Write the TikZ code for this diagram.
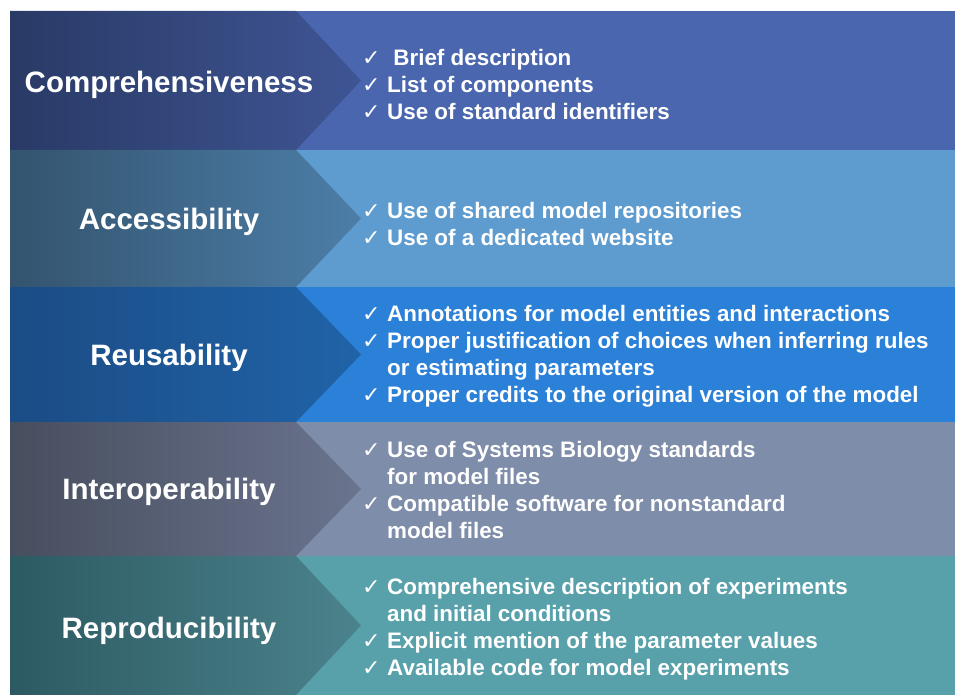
\documentclass[tikz,border=0pt]{standalone}
\usepackage{fontspec}
\setmainfont{Liberation Sans}
\newfontfamily\checkfont{DejaVu Sans}
\usepackage{tikz}
\definecolor{compleft}{HTML}{293A66}
\definecolor{compright}{HTML}{3F5594}
\definecolor{complight}{HTML}{4A66AE}
\definecolor{accleft}{HTML}{34546F}
\definecolor{accright}{HTML}{4C7EA8}
\definecolor{acclight}{HTML}{5E9CD0}
\definecolor{reuseleft}{HTML}{1B4C85}
\definecolor{reuseright}{HTML}{2063A8}
\definecolor{reuselight}{HTML}{2B80D8}
\definecolor{interleft}{HTML}{474E5E}
\definecolor{interright}{HTML}{6A748E}
\definecolor{interlight}{HTML}{7E8DA9}
\definecolor{reproleft}{HTML}{2D5A62}
\definecolor{reproright}{HTML}{4B838C}
\definecolor{reprolight}{HTML}{58A1AB}
\newcommand{\chk}{\makebox[25pt][l]{\checkfont\fontsize{22}{22}\selectfont ✓}}
\newcommand{\ind}{\hspace*{25pt}}
\tikzset{
  rowtitle/.style={text=white, font=\bfseries\fontsize{29.5}{29.5}\selectfont},
  rowitems/.style={anchor=west, text=white, align=left, inner sep=0pt,
    font=\bfseries\fontsize{22.4}{27}\selectfont},
}
\begin{document}
\begin{tikzpicture}[x=1pt, y=-1pt]
    \useasboundingbox (0,0) rectangle (955,695);
    % Comprehensiveness band
    \fill[complight] (10,11) rectangle (955,150);
    \shade[left color=compleft, right color=compright]
      (10,11) -- (296,11) -- (361,80.5) -- (296,150) -- (10,150) -- cycle;
    % Accessibility band
    \fill[acclight] (10,150) rectangle (955,287);
    \shade[left color=accleft, right color=accright]
      (10,150) -- (296,150) -- (361,218.5) -- (296,287) -- (10,287) -- cycle;
    % Reusability band
    \fill[reuselight] (10,287) rectangle (955,422);
    \shade[left color=reuseleft, right color=reuseright]
      (10,287) -- (296,287) -- (361,354.5) -- (296,422) -- (10,422) -- cycle;
    % Interoperability band
    \fill[interlight] (10,422) rectangle (955,556);
    \shade[left color=interleft, right color=interright]
      (10,422) -- (296,422) -- (361,489) -- (296,556) -- (10,556) -- cycle;
    % Reproducibility band
    \fill[reprolight] (10,556) rectangle (955,695);
    \shade[left color=reproleft, right color=reproright]
      (10,556) -- (296,556) -- (361,625.5) -- (296,695) -- (10,695) -- cycle;

    % Titles
    \node[rowtitle] (comp) at (169,85) {Comprehensiveness};
    \node[rowtitle] (acc) at (169,222) {Accessibility};
    \node[rowtitle] (reuse) at (169,358) {Reusability};
    \node[rowtitle] (inter) at (169,492) {Interoperability};
    \node[rowtitle] (repro) at (169,631) {Reproducibility};

    % Item lists
    \node[rowitems] (compitems) at (362,84) {\chk\ Brief description\\
      \chk List of components\\
      \chk Use of standard identifiers};
    \node[rowitems] (accitems) at (362,223.5) {\chk Use of shared model repositories\\
      \chk Use of a dedicated website};
    \node[rowitems] (reuseitems) at (362,356) {\chk Annotations for model entities and interactions\\
      \chk Proper justification of choices when inferring rules\\
      \ind or estimating parameters\\
      \chk Proper credits to the original version of the model};
    \node[rowitems] (interitems) at (362,490) {\chk Use of Systems Biology standards\\
      \ind for model files\\
      \chk Compatible software for nonstandard\\
      \ind model files};
    \node[rowitems] (reproitems) at (362,629) {\chk Comprehensive description of experiments\\
      \ind and initial conditions\\
      \chk Explicit mention of the parameter values\\
      \chk Available code for model experiments};
\end{tikzpicture}
\end{document}
